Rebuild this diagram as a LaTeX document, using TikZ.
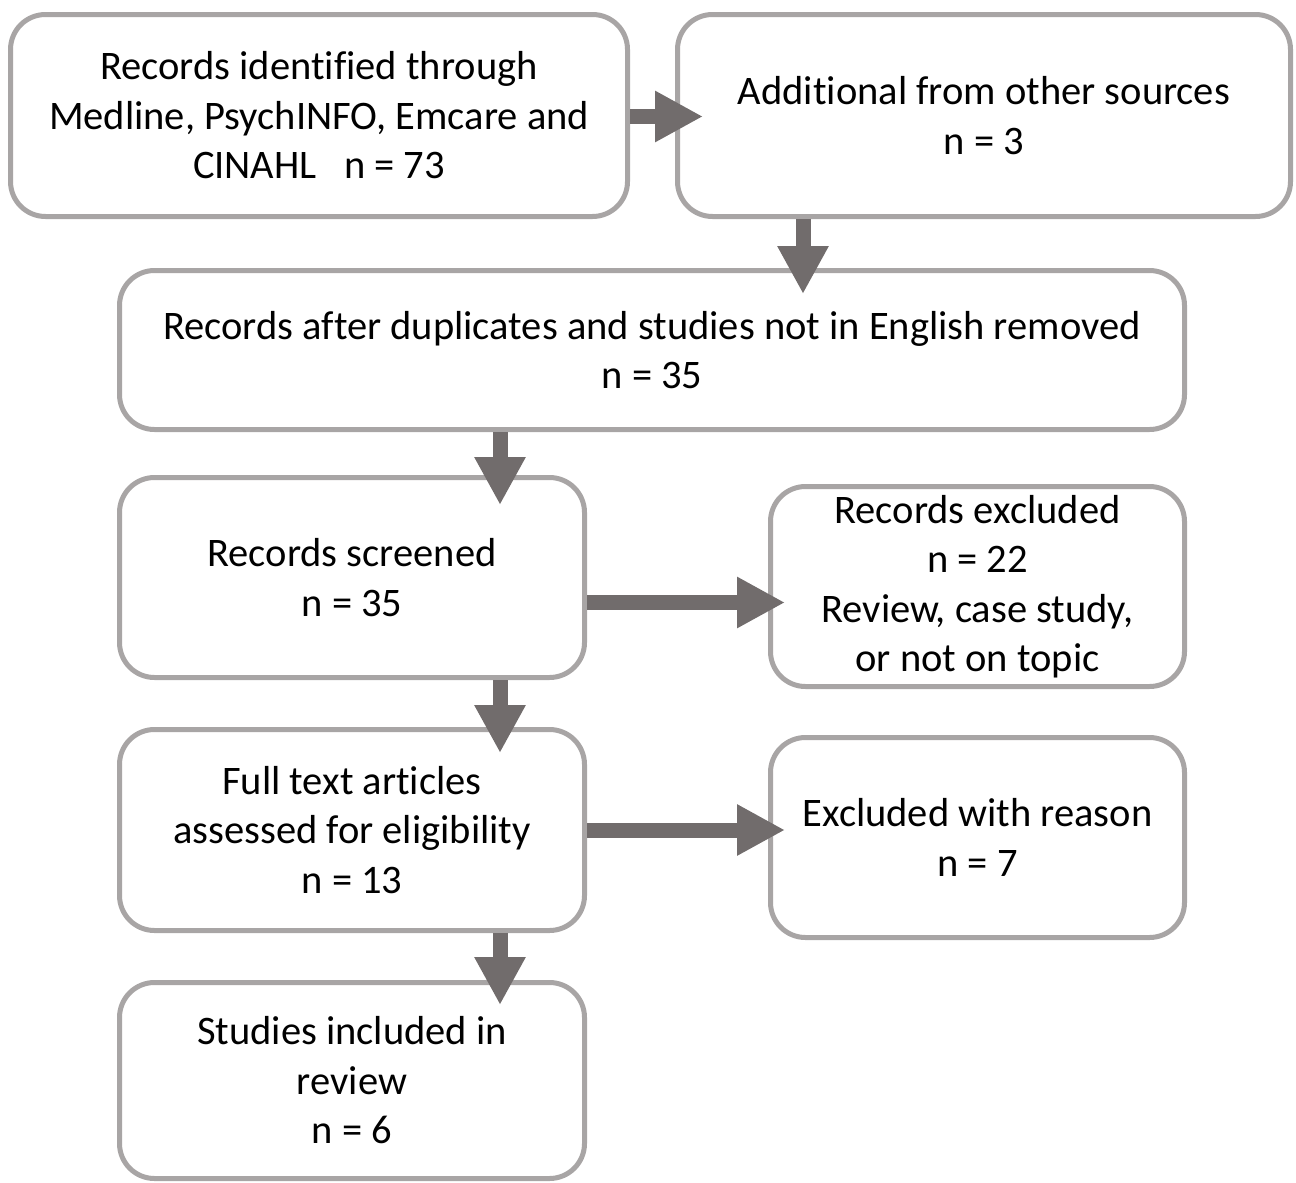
\documentclass[tikz,border=0pt]{standalone}
\usepackage{fontspec}
\setmainfont{Carlito}[Ligatures={NoCommon}]
\usetikzlibrary{arrows.meta,calc}
\definecolor{boxgray}{RGB}{168,165,165}
\definecolor{arrgray}{RGB}{113,108,108}
\tikzset{
  box/.style={draw=boxgray, line width=5pt, rounded corners=35pt, fill=white,
    align=center, inner sep=0pt, font=\fontsize{40.5}{49.5}\selectfont},
  bigarrow/.style={draw=arrgray, line width=15pt,
    -{Triangle[length=48pt,width=48pt]}, color=arrgray}
}
\begin{document}
\begin{tikzpicture}[x=1pt,y=-1pt]
\useasboundingbox (0,0) rectangle (1296,1183);
\node[box, minimum width=617pt, minimum height=202pt] (b1) at (319,115.5)
  {Records identified through\\Medline, PsychINFO, Emcare and\\CINAHL\ \ \ n = 73};
\node[box, minimum width=613pt, minimum height=202pt] (b2) at (984,115.5)
  {Additional from other sources\\n = 3};
\node[box, minimum width=1065pt, minimum height=159pt] (b3) at (652,350)
  {Records after duplicates and studies not in English removed\\n = 35};
\node[box, minimum width=465pt, minimum height=200pt] (b4) at (352,577.5)
  {Records screened\\n = 35};
\node[box, minimum width=414pt, minimum height=200pt] (b5) at (977.5,586.5)
  {Records excluded\\n = 22\\Review, case study,\\or not on topic};
\node[box, minimum width=465pt, minimum height=201pt] (b6) at (352,830)
  {Full text articles\\assessed for eligibility\\n = 13};
\node[box, minimum width=414pt, minimum height=200pt] (b7) at (977.5,837.5)
  {Excluded with reason\\n = 7};
\node[box, minimum width=465pt, minimum height=196pt] (b8) at (352,1080.5)
  {Studies included in\\review\\n = 6};

\draw[bigarrow] ($(b1.east)+(0,1)$) -- ($(b2.west)+(28,1)$);
\draw[bigarrow] (b2.south -| 803,0) -- ($(b3.north -| 803,0)+(0,26)$);
\draw[bigarrow] (b3.south -| 500,0) -- ($(b4.north -| 500,0)+(0,30)$);
\draw[bigarrow] ($(b4.east)+(0,25)$) -- ($(b5.west)+(17,16)$);
\draw[bigarrow] (b4.south -| 500,0) -- ($(b6.north -| 500,0)+(0,26)$);
\draw[bigarrow] (b6.east) -- ($(b7.west)+(17,-7.5)$);
\draw[bigarrow] (b6.south -| 500,0) -- ($(b8.north -| 500,0)+(0,25)$);
\end{tikzpicture}
\end{document}
